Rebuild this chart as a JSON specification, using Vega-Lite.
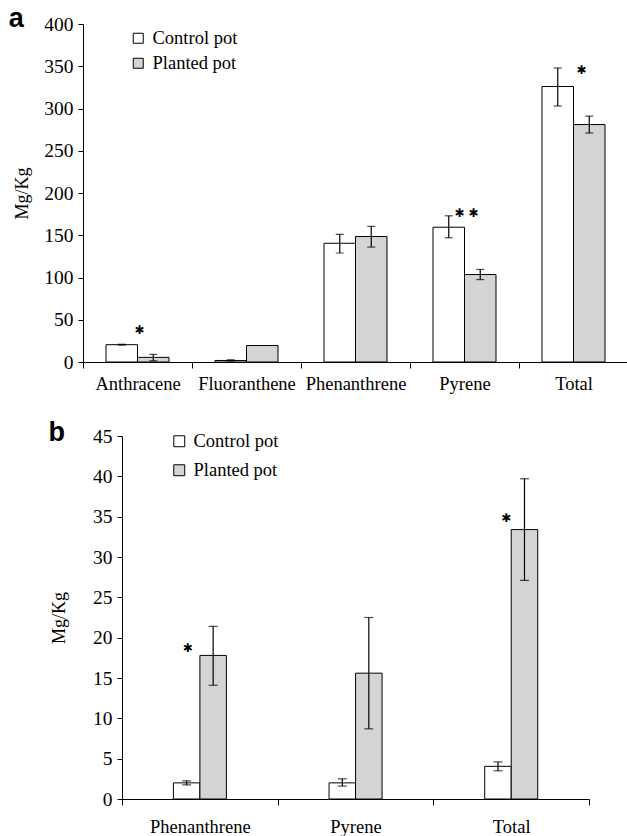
{
  "$schema": "https://vega.github.io/schema/vega-lite/v6.json",
  "padding": {"left": 8, "top": 5, "right": 0, "bottom": 0},
  "background": "white",
  "config": {
    "view": {"stroke": null},
    "font": "Liberation Serif",
    "axis": {
      "domainColor": "black", "tickColor": "black", "labelColor": "black", "titleColor": "black",
      "labelFont": "Liberation Serif", "titleFont": "Liberation Serif", "titleFontWeight": "normal",
      "domainWidth": 1, "tickWidth": 1, "grid": false
    }
  },
  "datasets": {
    "a": [
      {"compound": "Anthracene", "group": "Control pot", "value": 20.5, "lo": 20, "hi": 21},
      {"compound": "Anthracene", "group": "Planted pot", "value": 5.5, "lo": 1.5, "hi": 9},
      {"compound": "Fluoranthene", "group": "Control pot", "value": 1.8, "lo": 1.2, "hi": 2.6},
      {"compound": "Fluoranthene", "group": "Planted pot", "value": 19.5, "lo": 19.5, "hi": 19.5},
      {"compound": "Phenanthrene", "group": "Control pot", "value": 140.5, "lo": 129, "hi": 151},
      {"compound": "Phenanthrene", "group": "Planted pot", "value": 148.5, "lo": 136, "hi": 160.5},
      {"compound": "Pyrene", "group": "Control pot", "value": 159.5, "lo": 147, "hi": 173},
      {"compound": "Pyrene", "group": "Planted pot", "value": 103.5, "lo": 97.5, "hi": 109.5},
      {"compound": "Total", "group": "Control pot", "value": 326, "lo": 303, "hi": 348},
      {"compound": "Total", "group": "Planted pot", "value": 281, "lo": 271, "hi": 291}
    ],
    "b": [
      {"compound": "Phenanthrene", "group": "Control pot", "value": 2.0, "lo": 1.75, "hi": 2.25},
      {"compound": "Phenanthrene", "group": "Planted pot", "value": 17.8, "lo": 14.1, "hi": 21.4},
      {"compound": "Pyrene", "group": "Control pot", "value": 2.0, "lo": 1.6, "hi": 2.5},
      {"compound": "Pyrene", "group": "Planted pot", "value": 15.6, "lo": 8.7, "hi": 22.5},
      {"compound": "Total", "group": "Control pot", "value": 4.05, "lo": 3.5, "hi": 4.6},
      {"compound": "Total", "group": "Planted pot", "value": 33.4, "lo": 27.1, "hi": 39.7}
    ],
    "astars": [
      {"compound": "Anthracene", "value": 38, "label": "✱"},
      {"compound": "Pyrene", "value": 176, "label": "✱ ✱"},
      {"compound": "Total", "value": 345.5, "label": "✱"}
    ],
    "bstars": [
      {"compound": "Phenanthrene", "value": 18.7, "label": "✱"},
      {"compound": "Total", "value": 34.8, "label": "✱"}
    ]
  },
  "bounds": "flush",
  "center": true,
  "spacing": 74,
  "resolve": {"scale": {"fill": "independent", "xOffset": "independent", "x": "independent", "y": "independent"}, "legend": {"fill": "independent"}},
  "vconcat": [
    {
      "width": 545,
      "height": 338,
      "title": {"text": "a", "anchor": "start", "frame": "bounds", "font": "Liberation Sans", "fontSize": 27, "fontWeight": "bold", "color": "black", "dx": -5, "baseline": "alphabetic", "offset": -40},
      "encoding": {
        "x": {
          "field": "compound", "type": "nominal",
          "sort": ["Anthracene", "Fluoranthene", "Phenanthrene", "Pyrene", "Total"],
          "scale": {"paddingInner": 0, "paddingOuter": 0},
          "axis": {"title": null, "labelAngle": 0, "tickBand": "extent", "tickSize": 6, "labelPadding": 6, "labelFontSize": 18.5}
        }
      },
      "layer": [
        {
          "data": {"name": "a"},
          "mark": {"type": "bar", "stroke": "black", "strokeWidth": 1},
          "encoding": {
            "xOffset": {"field": "group", "type": "nominal", "scale": {"paddingInner": 0, "paddingOuter": 0.73}},
            "y": {"field": "value", "type": "quantitative", "title": "Mg/Kg",
              "scale": {"domain": [0, 400], "nice": false},
              "axis": {"values": [0, 50, 100, 150, 200, 250, 300, 350, 400], "tickSize": 5, "labelPadding": 5, "labelFontSize": 19.5, "titleFontSize": 18, "titlePadding": 12}},
            "fill": {"field": "group", "type": "nominal",
              "scale": {"domain": ["Control pot", "Planted pot"], "range": ["#ffffff", "#d4d4d4"]},
              "legend": {"title": null, "orient": "none", "legendX": 46, "legendY": 5, "symbolType": "square", "symbolSize": 100, "symbolStrokeColor": "black", "symbolStrokeWidth": 1, "labelFontSize": 18.5, "labelFont": "Liberation Serif", "labelColor": "black", "rowPadding": 6, "labelOffset": 5}}
          }
        },
        {
          "data": {"name": "a"},
          "transform": [{"filter": "datum.hi > datum.lo"}],
          "mark": {"type": "rule", "color": "black", "strokeWidth": 1.2},
          "encoding": {
            "xOffset": {"field": "group", "type": "nominal"},
            "y": {"field": "lo", "type": "quantitative", "title": "Mg/Kg"},
            "y2": {"field": "hi"}
          }
        },
        {
          "data": {"name": "a"},
          "transform": [{"filter": "datum.hi > datum.lo"}],
          "mark": {"type": "tick", "color": "black", "orient": "horizontal", "size": 8, "thickness": 1.2},
          "encoding": {
            "xOffset": {"field": "group", "type": "nominal"},
            "y": {"field": "lo", "type": "quantitative", "title": "Mg/Kg"}
          }
        },
        {
          "data": {"name": "a"},
          "transform": [{"filter": "datum.hi > datum.lo"}],
          "mark": {"type": "tick", "color": "black", "orient": "horizontal", "size": 8, "thickness": 1.2},
          "encoding": {
            "xOffset": {"field": "group", "type": "nominal"},
            "y": {"field": "hi", "type": "quantitative", "title": "Mg/Kg"}
          }
        },
        {
          "data": {"name": "astars"},
          "transform": [{"filter": "datum.compound != 'Total'"}],
          "mark": {"type": "text", "font": "DejaVu Sans", "fontSize": 12, "baseline": "middle", "align": "center", "color": "black", "dx": 2},
          "encoding": {
            "y": {"field": "value", "type": "quantitative", "title": "Mg/Kg"},
            "text": {"field": "label"}
          }
        },
        {
          "data": {"name": "astars"},
          "transform": [{"filter": "datum.compound == 'Total'"}],
          "mark": {"type": "text", "font": "DejaVu Sans", "fontSize": 12, "baseline": "middle", "align": "center", "color": "black", "dx": 8},
          "encoding": {
            "y": {"field": "value", "type": "quantitative", "title": "Mg/Kg"},
            "text": {"field": "label"}
          }
        }
      ]
    },
    {
      "width": 467,
      "height": 363,
      "title": {"text": "b", "anchor": "start", "frame": "bounds", "font": "Liberation Sans", "fontSize": 27, "fontWeight": "bold", "color": "black", "dx": -2, "baseline": "alphabetic", "offset": -42},
      "encoding": {
        "x": {
          "field": "compound", "type": "nominal",
          "sort": ["Phenanthrene", "Pyrene", "Total"],
          "scale": {"paddingInner": 0, "paddingOuter": 0},
          "axis": {"title": null, "labelAngle": 0, "tickBand": "extent", "tickSize": 6, "labelPadding": 12, "labelFontSize": 18.5}
        }
      },
      "layer": [
        {
          "data": {"name": "b"},
          "mark": {"type": "bar", "stroke": "black", "strokeWidth": 1},
          "encoding": {
            "xOffset": {"field": "group", "type": "nominal", "scale": {"paddingInner": 0, "paddingOuter": 0, "range": [51.4, 104.4]}},
            "y": {"field": "value", "type": "quantitative", "title": "Mg/Kg",
              "scale": {"domain": [0, 45], "nice": false},
              "axis": {"values": [0, 5, 10, 15, 20, 25, 30, 35, 40, 45], "tickSize": 5, "labelPadding": 5, "labelFontSize": 19.5, "titleFontSize": 18, "titlePadding": 24}},
            "fill": {"field": "group", "type": "nominal",
              "scale": {"domain": ["Control pot", "Planted pot"], "range": ["#ffffff", "#d4d4d4"]},
              "legend": {"title": null, "orient": "none", "legendX": 48, "legendY": -4, "symbolType": "square", "symbolSize": 120, "symbolStrokeColor": "black", "symbolStrokeWidth": 1, "labelFontSize": 18.5, "labelFont": "Liberation Serif", "labelColor": "black", "rowPadding": 10, "labelOffset": 5}}
          }
        },
        {
          "data": {"name": "b"},
          "transform": [{"filter": "datum.hi > datum.lo"}],
          "mark": {"type": "rule", "color": "black", "strokeWidth": 1.2},
          "encoding": {
            "xOffset": {"field": "group", "type": "nominal"},
            "y": {"field": "lo", "type": "quantitative", "title": "Mg/Kg"},
            "y2": {"field": "hi"}
          }
        },
        {
          "data": {"name": "b"},
          "transform": [{"filter": "datum.hi > datum.lo"}],
          "mark": {"type": "tick", "color": "black", "orient": "horizontal", "size": 9, "thickness": 1.2},
          "encoding": {
            "xOffset": {"field": "group", "type": "nominal"},
            "y": {"field": "lo", "type": "quantitative", "title": "Mg/Kg"}
          }
        },
        {
          "data": {"name": "b"},
          "transform": [{"filter": "datum.hi > datum.lo"}],
          "mark": {"type": "tick", "color": "black", "orient": "horizontal", "size": 9, "thickness": 1.2},
          "encoding": {
            "xOffset": {"field": "group", "type": "nominal"},
            "y": {"field": "hi", "type": "quantitative", "title": "Mg/Kg"}
          }
        },
        {
          "data": {"name": "bstars"},
          "transform": [{"filter": "datum.compound == 'Phenanthrene'"}],
          "mark": {"type": "text", "font": "DejaVu Sans", "fontSize": 12, "baseline": "middle", "align": "center", "color": "black", "dx": -12},
          "encoding": {
            "y": {"field": "value", "type": "quantitative", "title": "Mg/Kg"},
            "text": {"field": "label"}
          }
        },
        {
          "data": {"name": "bstars"},
          "transform": [{"filter": "datum.compound == 'Total'"}],
          "mark": {"type": "text", "font": "DejaVu Sans", "fontSize": 12, "baseline": "middle", "align": "center", "color": "black", "dx": -5},
          "encoding": {
            "y": {"field": "value", "type": "quantitative", "title": "Mg/Kg"},
            "text": {"field": "label"}
          }
        }
      ]
    }
  ]
}
